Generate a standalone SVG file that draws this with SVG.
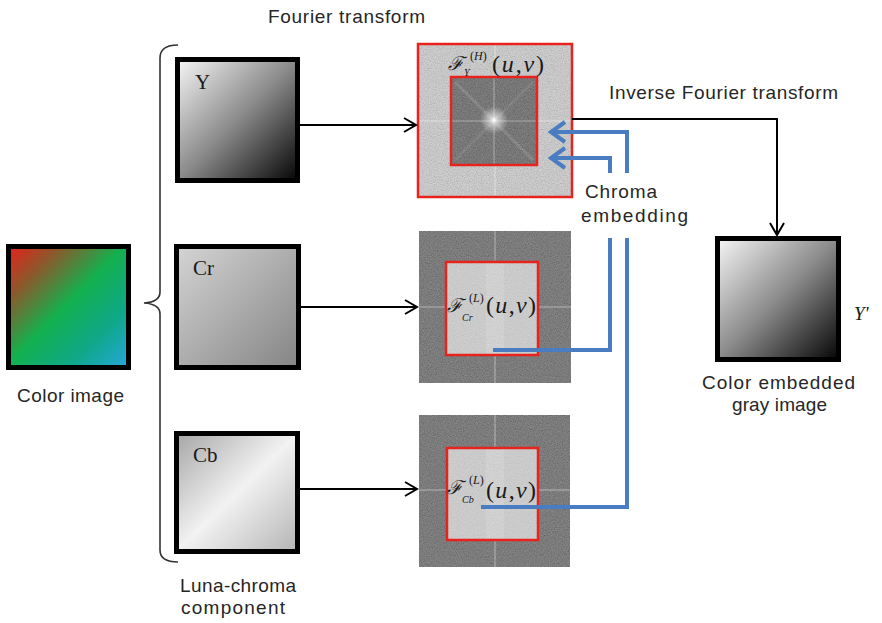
<svg xmlns="http://www.w3.org/2000/svg" width="882" height="623" viewBox="0 0 882 623">
  <style>
    .lbl { font-family: "Liberation Sans", Arial, sans-serif; font-size: 19px; fill: #262626; }
    .math { font-family: "Liberation Serif", "DejaVu Serif", serif; fill: #1a1a1a; }
    .frame { stroke: #000; stroke-width: 5; }
    .redbox { fill: none; stroke: #e8231e; stroke-width: 2.5; }
    .conn { fill: none; stroke: #000; stroke-width: 2; }
    .blue { fill: none; stroke: #4a7cc1; stroke-width: 4; }
    .cross { stroke: #ffffff; stroke-opacity: 0.22; stroke-width: 2; }
  </style>
  <defs>
    <linearGradient id="gColor" x1="0" y1="0" x2="1" y2="1">
      <stop offset="0" stop-color="#e8201a"/>
      <stop offset="0.22" stop-color="#8a5a2c"/>
      <stop offset="0.48" stop-color="#14b04e"/>
      <stop offset="0.75" stop-color="#0fa88a"/>
      <stop offset="1" stop-color="#27a6dc"/>
    </linearGradient>
    <linearGradient id="gY" x1="0" y1="0" x2="1" y2="1">
      <stop offset="0" stop-color="#f6f6f6"/>
      <stop offset="0.5" stop-color="#8a8a8a"/>
      <stop offset="1" stop-color="#050505"/>
    </linearGradient>
    <linearGradient id="gCr" x1="0" y1="0" x2="1" y2="1">
      <stop offset="0" stop-color="#d4d4d4"/>
      <stop offset="1" stop-color="#858585"/>
    </linearGradient>
    <linearGradient id="gCb" x1="0" y1="0" x2="1" y2="1">
      <stop offset="0" stop-color="#a6a6a6"/>
      <stop offset="0.5" stop-color="#f2f2f2"/>
      <stop offset="1" stop-color="#b4b4b4"/>
    </linearGradient>
    <radialGradient id="gSpot" cx="0.5" cy="0.5" r="0.5">
      <stop offset="0" stop-color="#ffffff"/>
      <stop offset="0.25" stop-color="#ffffff" stop-opacity="0.6"/>
      <stop offset="1" stop-color="#ffffff" stop-opacity="0"/>
    </radialGradient>
    <filter id="grain" x="0" y="0" width="1" height="1">
      <feTurbulence type="fractalNoise" baseFrequency="0.85" numOctaves="2" seed="7"/>
      <feColorMatrix type="matrix" values="1 0 0 0 0  1 0 0 0 0  1 0 0 0 0  0 0 0 0 0.3"/>
    </filter>
    <marker id="arrowK" markerUnits="userSpaceOnUse" markerWidth="16" markerHeight="18" refX="13" refY="8" orient="auto">
      <path d="M1,1 L13,8 L1,15" fill="none" stroke="#000" stroke-width="2"/>
    </marker>
    <marker id="arrowB" markerUnits="userSpaceOnUse" markerWidth="20" markerHeight="26" refX="16" refY="12" orient="auto">
      <path d="M2,2 L16,12 L2,22" fill="none" stroke="#4a7cc1" stroke-width="4"/>
    </marker>
  </defs>

  <rect width="882" height="623" fill="#ffffff"/>

  <!-- colour source image -->
  <g id="color-image">
    <rect x="8.5" y="246.5" width="120" height="121" fill="url(#gColor)" class="frame"/>
    <text class="lbl" x="17" y="402" textLength="107">Color image</text>
  </g>

  <!-- brace grouping the three components -->
  <g id="brace">
    <path d="M178,45 Q160,45 160,58 V292 Q160,302 144,303 Q160,304 160,314 V550 Q160,562 178,562" fill="none" stroke="#333" stroke-width="1.6"/>
    <text class="lbl" x="180" y="592" textLength="116">Luna-chroma</text>
    <text class="lbl" x="181" y="614" textLength="104">component</text>
  </g>

  <!-- luma / chroma planes -->
  <g id="plane-y">
    <rect x="177.5" y="59.5" width="120" height="121" fill="url(#gY)" class="frame"/>
    <text class="math" x="195" y="89" font-size="21">Y</text>
  </g>
  <g id="plane-cr">
    <rect x="176.5" y="246.5" width="122" height="121" fill="url(#gCr)" class="frame"/>
    <text class="math" x="193" y="275" font-size="21">Cr</text>
  </g>
  <g id="plane-cb">
    <rect x="176.5" y="433.5" width="121" height="118" fill="url(#gCb)" class="frame"/>
    <text class="math" x="193" y="462" font-size="21">Cb</text>
  </g>

  <!-- spectrum of Y: high-frequency ring kept, centre replaced -->
  <g id="spectrum-y">
    <rect x="418" y="44" width="154" height="153" fill="#cbcbcb"/>
    <rect x="418" y="44" width="154" height="153" filter="url(#grain)"/>
    <line class="cross" x1="418" y1="121" x2="572" y2="121"/>
    <line class="cross" x1="495" y1="44" x2="495" y2="197"/>
    <rect x="418" y="44" width="154" height="153" class="redbox"/>
    <rect x="451" y="77" width="86" height="88" fill="#5a5a5a"/>
    <rect x="451" y="77" width="86" height="88" filter="url(#grain)"/>
    <line x1="451" y1="121" x2="537" y2="121" stroke="#fff" stroke-opacity="0.25" stroke-width="1.5"/>
    <line x1="494" y1="77" x2="494" y2="165" stroke="#fff" stroke-opacity="0.25" stroke-width="1.5"/>
    <line x1="455" y1="82" x2="533" y2="160" stroke="#fff" stroke-opacity="0.12" stroke-width="3"/>
    <line x1="533" y1="82" x2="455" y2="160" stroke="#fff" stroke-opacity="0.08" stroke-width="3"/>
    <circle cx="494" cy="120" r="14" fill="url(#gSpot)"/>
    <rect x="451" y="77" width="86" height="88" class="redbox"/>
    <text class="math" x="448" y="70" font-size="19" font-style="italic">ℱ</text>
    <text class="math" x="464" y="76" font-size="10" font-style="italic">Y</text>
    <text class="math" x="470" y="60" font-size="12">(<tspan font-style="italic">H</tspan>)</text>
    <text class="math" x="492" y="72" font-size="24" textLength="52">(<tspan font-style="italic">u</tspan>,<tspan font-style="italic">v</tspan>)</text>
  </g>

  <!-- spectrum of Cr: low-frequency centre carries the chroma -->
  <g id="spectrum-cr">
    <rect x="419" y="231" width="152" height="152" fill="#606060"/>
    <rect x="419" y="231" width="152" height="152" filter="url(#grain)"/>
    <line class="cross" x1="419" y1="307" x2="571" y2="307"/>
    <line class="cross" x1="495" y1="231" x2="495" y2="383"/>
    <rect x="446" y="262" width="92" height="93" fill="#cdcdcd"/>
    <rect x="446" y="262" width="92" height="93" filter="url(#grain)" opacity="0.5"/>
    <rect x="486" y="262" width="18" height="93" fill="#fff" opacity="0.12"/>
    <rect x="446" y="262" width="92" height="93" class="redbox"/>
    <text class="math" x="447" y="312" font-size="19" font-style="italic">ℱ</text>
    <text class="math" x="462" y="321" font-size="10" font-style="italic">Cr</text>
    <text class="math" x="469" y="302" font-size="12">(<tspan font-style="italic">L</tspan>)</text>
    <text class="math" x="486" y="313" font-size="24" textLength="50">(<tspan font-style="italic">u</tspan>,<tspan font-style="italic">v</tspan>)</text>
  </g>

  <!-- spectrum of Cb -->
  <g id="spectrum-cb">
    <rect x="419" y="415" width="151" height="152" fill="#606060"/>
    <rect x="419" y="415" width="151" height="152" filter="url(#grain)"/>
    <line class="cross" x1="419" y1="490" x2="570" y2="490"/>
    <line class="cross" x1="495" y1="415" x2="495" y2="567"/>
    <rect x="447" y="448" width="91" height="92" fill="#cdcdcd"/>
    <rect x="447" y="448" width="91" height="92" filter="url(#grain)" opacity="0.5"/>
    <rect x="486" y="448" width="18" height="92" fill="#fff" opacity="0.12"/>
    <rect x="447" y="448" width="91" height="92" class="redbox"/>
    <text class="math" x="447" y="494" font-size="19" font-style="italic">ℱ</text>
    <text class="math" x="462" y="503" font-size="10" font-style="italic">Cb</text>
    <text class="math" x="469" y="484" font-size="12">(<tspan font-style="italic">L</tspan>)</text>
    <text class="math" x="486" y="498" font-size="24" textLength="50">(<tspan font-style="italic">u</tspan>,<tspan font-style="italic">v</tspan>)</text>
  </g>

  <!-- output gray image -->
  <g id="gray-output">
    <rect x="717.5" y="238.5" width="121" height="121" fill="url(#gY)" class="frame"/>
    <text class="math" x="854" y="320" font-size="19" font-style="italic">Y'</text>
    <text class="lbl" x="702" y="389" textLength="153">Color embedded</text>
    <text class="lbl" x="732" y="411" textLength="95">gray image</text>
  </g>

  <!-- captions -->
  <g id="captions">
    <text class="lbl" x="268" y="23" textLength="157">Fourier transform</text>
    <text class="lbl" x="609" y="99" textLength="229">Inverse Fourier transform</text>
    <text class="lbl" x="585" y="198" textLength="72">Chroma</text>
    <text class="lbl" x="581" y="222" textLength="107">embedding</text>
  </g>

  <!-- connectors -->
  <g id="connectors">
    <line class="conn" x1="300" y1="125" x2="416" y2="125" marker-end="url(#arrowK)"/>
    <line class="conn" x1="301" y1="307" x2="417" y2="307" marker-end="url(#arrowK)"/>
    <line class="conn" x1="300" y1="489" x2="417" y2="489" marker-end="url(#arrowK)"/>
    <path class="conn" d="M572,119 H777 V235" marker-end="url(#arrowK)"/>
    <path class="blue" d="M627,173 V132 H551" marker-end="url(#arrowB)"/>
    <path class="blue" d="M610,173 V158 H551" marker-end="url(#arrowB)"/>
    <path class="blue" d="M610,238 V350 H493"/>
    <path class="blue" d="M627,238 V507 H481"/>
  </g>
</svg>
